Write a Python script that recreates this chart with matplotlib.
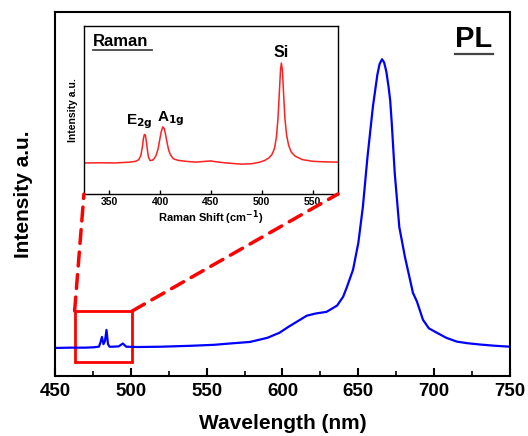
import matplotlib
matplotlib.use('Agg')
from matplotlib import pyplot as plt
from matplotlib.patches import Rectangle, ConnectionPatch
from matplotlib.ticker import MultipleLocator

plt.rcParams['font.family'] = ['Liberation Sans', 'DejaVu Sans']

# PL spectrum (wavelength nm, normalised intensity)
pl_wl = [450, 460, 470, 475, 479, 480, 481, 482, 483, 484, 485, 486, 488, 492,
         494.8, 497, 505, 520, 540, 555, 565, 578.5, 590, 598, 604, 609.5, 616,
         622, 629, 636, 640, 642.5, 646.5, 650, 653, 656, 659.6, 662.5, 664,
         665.6, 667, 668.5, 670, 671, 672, 674, 677, 680.7, 686, 688.6, 692.6,
         696.5, 701.8, 708, 715, 722, 730, 740, 750]
pl_int = [0.088, 0.089, 0.089, 0.090, 0.092, 0.105, 0.123, 0.100, 0.110, 0.145,
          0.100, 0.092, 0.092, 0.093, 0.102, 0.092, 0.091, 0.092, 0.095, 0.098,
          0.102, 0.107, 0.120, 0.136, 0.155, 0.171, 0.190, 0.197, 0.202, 0.222,
          0.250, 0.281, 0.335, 0.420, 0.534, 0.690, 0.850, 0.950, 0.985, 1.000,
          0.990, 0.960, 0.910, 0.870, 0.800, 0.640, 0.470, 0.376, 0.262, 0.235,
          0.177, 0.150, 0.136, 0.120, 0.108, 0.103, 0.099, 0.095, 0.092]

# Raman spectrum (cm-1, a.u.)
raman_shift = [325, 340, 355, 370, 376, 379, 381, 382.5, 383.5, 384.5, 385.5,
               386.5, 387.5, 388.5, 390, 392, 394, 396, 398, 399.5, 401, 402.5,
               404, 405.5, 407, 408.5, 410, 413, 418, 425, 435, 445, 450, 455,
               465, 480, 490, 498, 503, 507, 510, 512.5, 514.5, 516, 517.3,
               518.5, 519.3, 520.3, 521.5, 522.8, 524.5, 526.5, 529, 533, 540,
               550, 560, 575]
raman_int = [0.185, 0.186, 0.185, 0.190, 0.195, 0.205, 0.230, 0.280, 0.330,
             0.355, 0.350, 0.310, 0.260, 0.220, 0.200, 0.200, 0.210, 0.230,
             0.270, 0.320, 0.370, 0.400, 0.390, 0.350, 0.300, 0.260, 0.235,
             0.210, 0.200, 0.195, 0.190, 0.195, 0.197, 0.192, 0.185, 0.178,
             0.180, 0.190, 0.200, 0.215, 0.235, 0.270, 0.340, 0.450, 0.600,
             0.740, 0.780, 0.740, 0.600, 0.450, 0.350, 0.290, 0.250, 0.225,
             0.205, 0.195, 0.192, 0.190]

zoom_box = (463, 501, 0.044, 0.205)   # wl from, wl to, y from, y to

fig = plt.figure(figsize=(5.28, 4.36), dpi=100)
ax = fig.add_axes([0.104, 0.138, 0.862, 0.835])

ax.plot(pl_wl, pl_int, color='#0000ff', lw=1.6)
ax.set_xlim(450, 750)
ax.set_ylim(0, 1.15)
ax.xaxis.set_major_locator(MultipleLocator(50))
ax.xaxis.set_minor_locator(MultipleLocator(25))
ax.set_yticks([])
ax.tick_params(axis='x', which='major', direction='in', length=6, width=1.5,
               labelsize=13.5, pad=5)
ax.tick_params(axis='x', which='minor', direction='in', length=3.5, width=1.2)
for lab in ax.get_xticklabels():
    lab.set_fontweight('bold')
for sp in ax.spines.values():
    sp.set_linewidth(1.5)
ax.set_xlabel('Wavelength (nm)', fontsize=15, fontweight='bold', labelpad=10)
ax.set_ylabel('Intensity a.u.', fontsize=15, fontweight='bold', labelpad=16)

ax.text(0.92, 0.926, 'PL', transform=ax.transAxes, fontsize=21,
        fontweight='bold', ha='center', va='center')
ax.plot([0.879, 0.963], [0.885, 0.885], transform=ax.transAxes,
        color='#444444', lw=1.6)

x0, x1, y0, y1 = zoom_box
ax.add_patch(Rectangle((x0, y0), x1 - x0, y1 - y0, fill=False,
                       edgecolor='#ff0000', lw=2))

# inset
ins = fig.add_axes([0.159, 0.555, 0.481, 0.385])
ins.plot(raman_shift, raman_int, color='#ff2020', lw=1.1)
ins.set_xlim(325, 575)
ins.set_ylim(0, 1)
ins.set_yticks([])
ins.xaxis.set_major_locator(MultipleLocator(50))
ins.tick_params(axis='x', direction='in', length=3, width=1, labelsize=7.5,
                pad=2)
for lab in ins.get_xticklabels():
    lab.set_fontweight('bold')
for sp in ins.spines.values():
    sp.set_linewidth(1)
ins.set_xlabel('Raman Shift (cm$^{\\mathbf{-1}}$)', fontsize=8,
               fontweight='bold', labelpad=1)
ins.set_ylabel('Intensity a.u.', fontsize=7.5, fontweight='bold', labelpad=4)
ins.text(0.035, 0.908, 'Raman', transform=ins.transAxes, fontsize=12,
         fontweight='bold', ha='left', va='center')
ins.plot([0.035, 0.268], [0.857, 0.857], transform=ins.transAxes,
         color='#444444', lw=1.3)
ins.text(519, 0.842, 'Si', fontsize=11.5, fontweight='bold', ha='center',
         va='center')
ins.text(379.6, 0.43, 'E$_{\\mathbf{2g}}$', fontsize=11, fontweight='bold',
         ha='center', va='center')
ins.text(410.6, 0.45, 'A$_{\\mathbf{1g}}$', fontsize=11, fontweight='bold',
         ha='center', va='center')

for xa, xb in [(x0, 0), (x1, 1)]:
    con = ConnectionPatch(xyA=(xa, y1), coordsA=ax.transData,
                          xyB=(xb, 0), coordsB=ins.transAxes,
                          color='#ff0000', lw=2.5, linestyle=(0, (4, 2.5)))
    fig.add_artist(con)

fig.savefig('out.png', dpi=100)
